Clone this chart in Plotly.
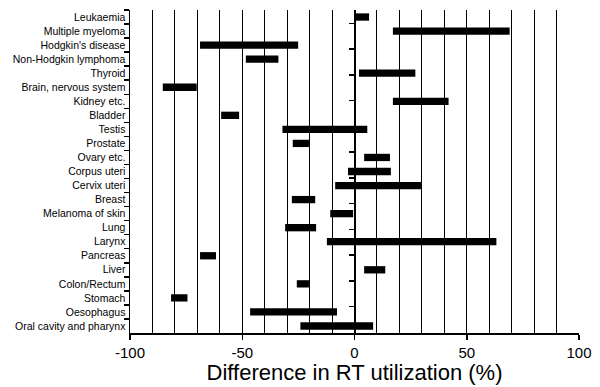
import plotly.graph_objects as go

categories = ["Leukaemia", "Multiple myeloma", "Hodgkin's disease", "Non-Hodgkin lymphoma",
              "Thyroid", "Brain, nervous system", "Kidney etc.", "Bladder", "Testis",
              "Prostate", "Ovary etc.", "Corpus uteri", "Cervix uteri", "Breast",
              "Melanoma of skin", "Lung", "Larynx", "Pancreas", "Liver", "Colon/Rectum",
              "Stomach", "Oesophagus", "Oral cavity and pharynx"]
low = [0.0, 17.1, -68.8, -48.4, 2.0, -85.4, 17.1, -59.4, -32.1, -27.5, 4.3, -2.9, -8.6,
       -27.9, -10.8, -30.9, -12.3, -68.8, 4.3, -25.7, -81.7, -46.5, -24.1]
high = [6.5, 69.1, -25.1, -33.9, 27.1, -70.3, 41.9, -51.4, 5.7, -20.3, 15.8, 16.2, 29.6,
        -17.5, -0.6, -17.1, 63.2, -61.7, 13.7, -20.3, -74.4, -7.8, 8.3]
x_ticks = [-100, -50, 0, 50, 100]
x_tick_labels = ["-100", "-50", "0", "50", "100"]

fig = go.Figure()
fig.add_trace(go.Bar(
    y=categories, base=low, x=[h - l for h, l in zip(high, low)],
    orientation="h", marker=dict(color="black", line=dict(width=0)),
    width=0.52, showlegend=False, hoverinfo="skip"))
# invisible trace for the second y axis at x = 0
fig.add_trace(go.Scatter(y=categories, x=[0] * len(categories), yaxis="y2",
                         mode="markers", marker=dict(opacity=0), showlegend=False,
                         hoverinfo="skip"))

fig.update_layout(
    width=600, height=387,
    margin=dict(l=130, r=21, t=10, b=54),
    plot_bgcolor="white", paper_bgcolor="white",
    font=dict(family="Liberation Sans, Arial, sans-serif", color="black"),
    bargap=0.48,
    xaxis=dict(range=[-100, 100], tickvals=x_ticks, ticktext=x_tick_labels,
               ticks="outside", ticklen=5, automargin=False,
               tickwidth=1.5, tickcolor="black",
               showline=True, linecolor="black", linewidth=1.5,
               showgrid=True, gridcolor="black", gridwidth=1,
               minor=dict(dtick=10, showgrid=True, gridcolor="black", gridwidth=1),
               zeroline=False, tickfont=dict(size=15),
               title=dict(text="Difference in RT utilization (%)", font=dict(size=22),
                          standoff=4)),
    yaxis=dict(type="category", categoryorder="array", categoryarray=categories,
               autorange="reversed", tickson="boundaries", ticks="outside", ticklen=5,
               tickwidth=1.5, tickcolor="black", showline=True, linecolor="black",
               linewidth=1.5, showgrid=False, tickfont=dict(size=10.5),
               ticklabelstandoff=1, automargin=False),
    yaxis2=dict(type="category", categoryorder="array", categoryarray=categories,
                autorange="reversed", overlaying="y", anchor="free", position=0.5,
                side="left", tickson="boundaries", ticks="outside", ticklen=6,
                tickwidth=1.5, tickcolor="black", showline=True, linecolor="black",
                linewidth=1.5, showgrid=False, showticklabels=False, automargin=False),
)

fig.write_html("out.html", config={"displayModeBar": False, "staticPlot": True},
               post_script="document.body.style.margin='0';document.body.style.padding='0';")
